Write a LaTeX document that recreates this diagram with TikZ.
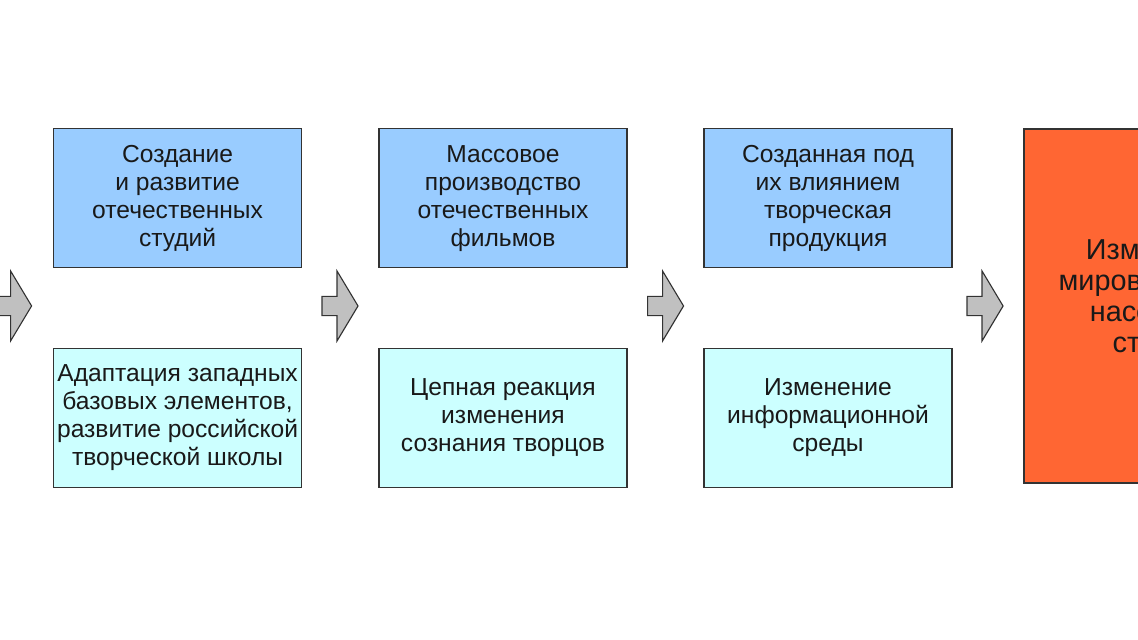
\documentclass[tikz,border=0pt]{standalone}
\usepackage{fontspec}
\setmainfont{Liberation Sans}
\usetikzlibrary{positioning}

\definecolor{topblue}{HTML}{99CCFF}
\definecolor{lowcyan}{HTML}{CCFFFF}
\definecolor{resultorange}{HTML}{FF6633}
\definecolor{arrowgray}{HTML}{C0C0C0}
\definecolor{edgegray}{HTML}{333333}

\begin{document}
\begin{tikzpicture}[
  every node/.style={font={\fontsize{17.5pt}{20pt}\selectfont}, text=black!90},
  stagebox/.style={draw=edgegray, line width=0.8pt, align=center, minimum width=6.2cm, minimum height=3.475cm, inner sep=0pt},
  factor/.style={stagebox, fill=topblue},
  effect/.style={stagebox, fill=lowcyan},
  result/.style={draw=edgegray, line width=0.8pt, minimum width=6.6cm, minimum height=8.85cm, fill=resultorange},
  resulttext/.style={align=center, inner sep=0pt, font={\fontsize{20.5pt}{22pt}\selectfont}},
  blockarrow/.style={draw=edgegray, line width=0.8pt, fill=arrowgray, line join=miter},
]
\useasboundingbox (0,0) rectangle (28.45,16);
\clip (0,0) rectangle (28.45,16);

\node[factor] (studios) at (4.44,11.04) {Создание\\и развитие\\отечественных\\студий};
\node[factor] (films) at (12.575,11.04) {Массовое\\производство\\отечественных\\фильмов};
\node[factor] (product) at (20.7,11.04) {Созданная под\\их влиянием\\творческая\\продукция};

\node[effect] (school) at (4.44,5.56) {Адаптация западных\\базовых элементов,\\развитие российской\\творческой школы};
\node[effect] (chain) at (12.575,5.56) {Цепная реакция\\изменения\\сознания творцов};
\node[effect] (media) at (20.7,5.56) {Изменение\\информационной\\среды};

\node[result] (outlook) at (28.9,8.35) {};
\node[resulttext] (outlooktext) at ([xshift=0.12cm,yshift=0.17cm]outlook.center) {Изменение\\мировоззрения\\населения\\страны};

% block arrows in the gaps
\foreach \ax in {0.34,8.5,16.64,24.625}
  \draw[blockarrow] (\ax,8.35) ++(-0.45,0.24) -- ++(0.375,0) -- ++(0,0.635)
    -- ++(0.525,-0.875) -- ++(-0.525,-0.875) -- ++(0,0.635) -- ++(-0.375,0) -- cycle;

\end{tikzpicture}
\end{document}
